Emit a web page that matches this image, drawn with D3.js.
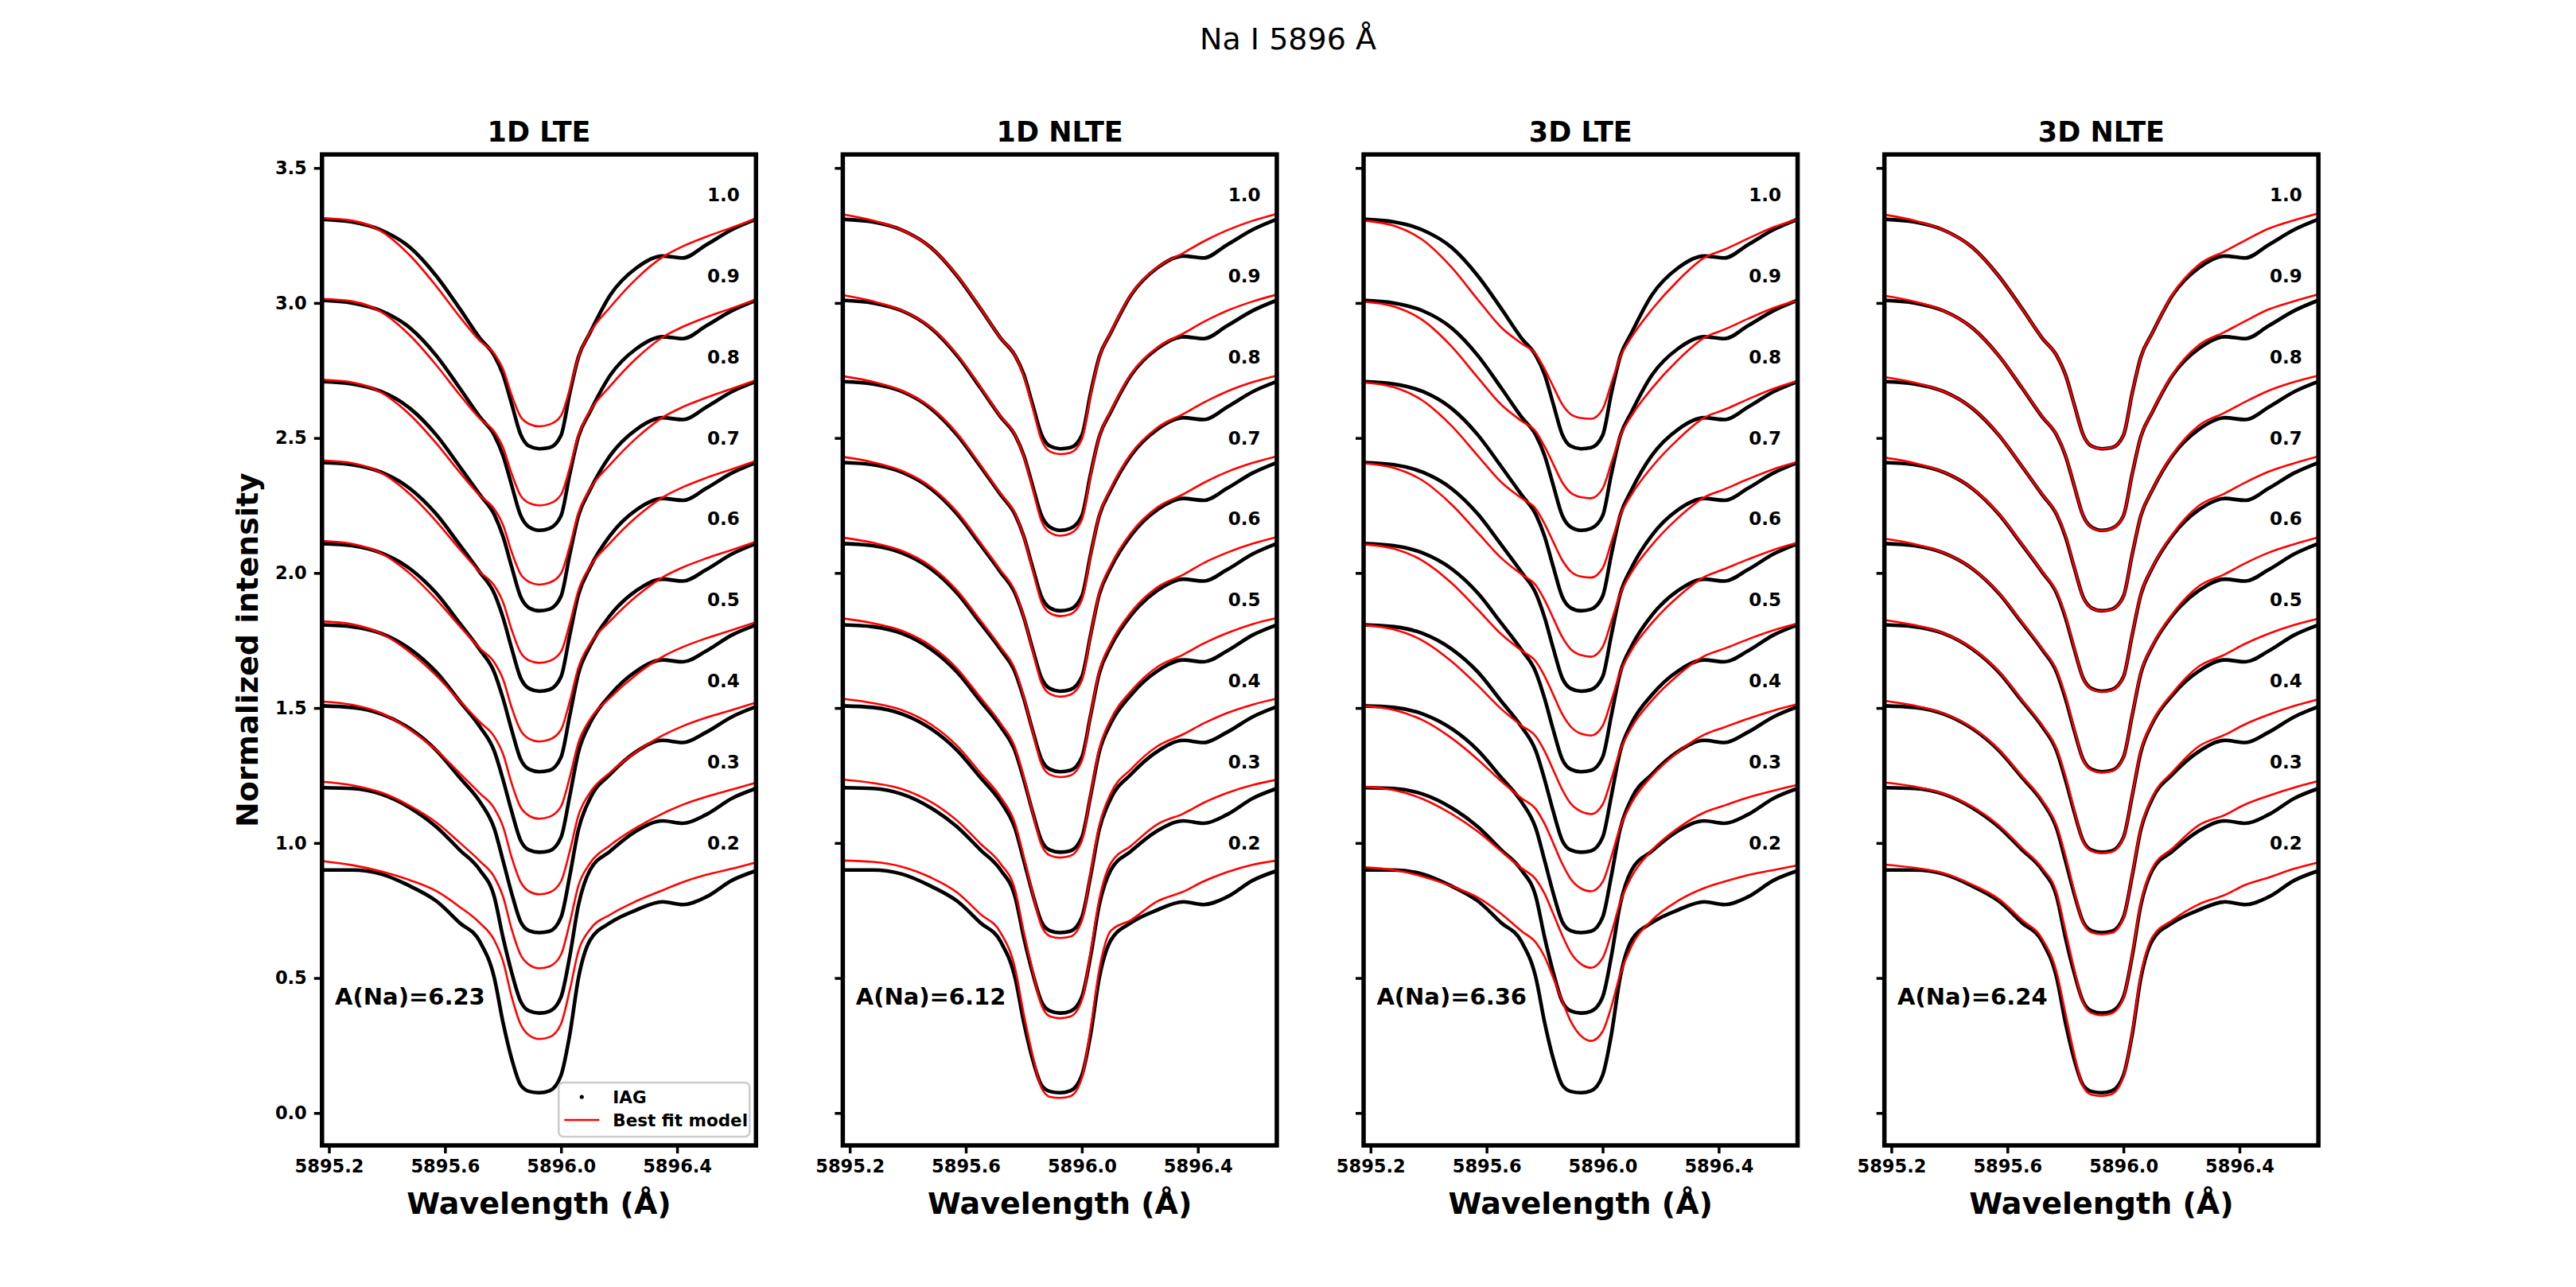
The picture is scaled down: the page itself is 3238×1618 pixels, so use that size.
<!DOCTYPE html>
<html><head><meta charset="utf-8">
<script src="https://cdn.jsdelivr.net/npm/d3@7/dist/d3.min.js"></script>
<style>
body{margin:0;background:#fff}
svg{display:block}
text{font-family:"DejaVu Sans",sans-serif}
</style>
</head><body>
<svg id="chart" width="3238" height="1618"></svg>
<script>
// ---------------- DATA ----------------
const figureTitle = "Na I 5896 Å";
const panelTitles = ["1D LTE", "1D NLTE", "3D LTE", "3D NLTE"];
const abundances = ["A(Na)=6.23", "A(Na)=6.12", "A(Na)=6.36", "A(Na)=6.24"];
const muLabels = ["1.0", "0.9", "0.8", "0.7", "0.6", "0.5", "0.4", "0.3", "0.2"];
const muOffsets = [2.4, 2.1, 1.8, 1.5, 1.2, 0.9, 0.6, 0.3, 0.0];
const xTicks = [5895.2, 5895.6, 5896.0, 5896.4];
const yTicks = [0.0, 0.5, 1.0, 1.5, 2.0, 2.5, 3.0, 3.5];
const legendLabels = ["IAG", "Best fit model"];

const wavelengths = [5895.176, 5895.28, 5895.38, 5895.48, 5895.57, 5895.65, 5895.72, 5895.77, 5895.80, 5895.83,
  5895.86, 5895.89, 5895.925, 5895.96, 5896.00, 5896.03, 5896.06, 5896.10, 5896.17, 5896.26,
  5896.35, 5896.42, 5896.50, 5896.59, 5896.672];

// IAG observed intensity (normalised), one row per mu (1.0 ... 0.2)
const obsIAG = [
  [0.910,0.900,0.870,0.805,0.700,0.580,0.470,0.405,0.335,0.225,0.115,0.070,0.060,0.064,0.110,0.265,0.400,0.490,0.630,0.730,0.774,0.767,0.815,0.872,0.910],
  [0.910,0.900,0.871,0.807,0.705,0.586,0.478,0.410,0.335,0.224,0.115,0.070,0.058,0.065,0.112,0.266,0.405,0.497,0.633,0.731,0.775,0.768,0.815,0.872,0.910],
  [0.909,0.900,0.872,0.809,0.711,0.595,0.490,0.416,0.335,0.222,0.114,0.071,0.060,0.066,0.114,0.268,0.412,0.508,0.636,0.732,0.775,0.768,0.814,0.872,0.909],
  [0.909,0.901,0.873,0.812,0.718,0.605,0.503,0.424,0.335,0.220,0.113,0.072,0.062,0.068,0.116,0.270,0.420,0.520,0.640,0.734,0.776,0.769,0.813,0.871,0.909],
  [0.909,0.901,0.874,0.815,0.725,0.615,0.516,0.432,0.335,0.218,0.112,0.073,0.064,0.069,0.118,0.272,0.428,0.529,0.644,0.735,0.777,0.770,0.812,0.871,0.909],
  [0.908,0.901,0.876,0.818,0.733,0.626,0.531,0.440,0.335,0.216,0.111,0.074,0.066,0.071,0.121,0.274,0.437,0.544,0.649,0.737,0.778,0.771,0.811,0.871,0.908],
  [0.908,0.902,0.878,0.823,0.743,0.643,0.553,0.453,0.335,0.213,0.110,0.075,0.068,0.073,0.125,0.278,0.450,0.565,0.655,0.739,0.780,0.772,0.810,0.868,0.905],
  [0.905,0.902,0.881,0.830,0.760,0.675,0.600,0.500,0.350,0.220,0.115,0.078,0.070,0.077,0.130,0.280,0.470,0.600,0.670,0.745,0.782,0.773,0.805,0.866,0.902],
  [0.900,0.900,0.885,0.840,0.785,0.705,0.635,0.500,0.335,0.200,0.105,0.080,0.075,0.082,0.140,0.290,0.500,0.640,0.705,0.752,0.782,0.772,0.800,0.862,0.897]
];

// Best-fit models, one row per mu (1.0 ... 0.2)
const model1DLTE = [
  [0.914,0.905,0.866,0.775,0.662,0.550,0.460,0.412,0.355,0.258,0.180,0.152,0.143,0.150,0.183,0.280,0.400,0.490,0.585,0.690,0.770,0.810,0.845,0.880,0.912],
  [0.915,0.906,0.867,0.779,0.670,0.561,0.472,0.423,0.365,0.267,0.188,0.159,0.150,0.157,0.190,0.289,0.410,0.500,0.593,0.695,0.773,0.812,0.847,0.881,0.913],
  [0.916,0.906,0.869,0.785,0.680,0.574,0.487,0.437,0.378,0.277,0.197,0.167,0.157,0.164,0.199,0.299,0.422,0.511,0.602,0.700,0.776,0.815,0.849,0.883,0.914],
  [0.917,0.907,0.871,0.791,0.691,0.589,0.504,0.453,0.392,0.289,0.207,0.176,0.167,0.174,0.209,0.312,0.436,0.524,0.612,0.707,0.780,0.818,0.852,0.885,0.915],
  [0.919,0.908,0.873,0.797,0.702,0.604,0.521,0.469,0.407,0.301,0.218,0.186,0.176,0.183,0.220,0.324,0.450,0.538,0.623,0.714,0.784,0.821,0.854,0.886,0.916],
  [0.921,0.910,0.876,0.806,0.720,0.627,0.548,0.494,0.430,0.320,0.234,0.201,0.190,0.197,0.236,0.343,0.472,0.558,0.639,0.724,0.790,0.826,0.858,0.889,0.918],
  [0.924,0.912,0.881,0.819,0.744,0.659,0.584,0.528,0.461,0.346,0.257,0.221,0.210,0.217,0.258,0.369,0.502,0.587,0.662,0.738,0.798,0.833,0.864,0.893,0.920],
  [0.927,0.914,0.887,0.837,0.776,0.702,0.633,0.574,0.502,0.380,0.287,0.249,0.236,0.243,0.287,0.404,0.542,0.625,0.692,0.757,0.809,0.842,0.871,0.898,0.923],
  [0.933,0.918,0.895,0.862,0.822,0.764,0.704,0.640,0.562,0.430,0.330,0.288,0.274,0.281,0.330,0.455,0.600,0.680,0.735,0.785,0.825,0.855,0.882,0.905,0.928]
];
const model1DNLTE = [
  [0.928,0.905,0.870,0.805,0.702,0.582,0.470,0.405,0.330,0.215,0.095,0.050,0.040,0.045,0.095,0.258,0.398,0.492,0.632,0.732,0.785,0.828,0.869,0.905,0.930],
  [0.929,0.906,0.872,0.809,0.709,0.590,0.480,0.412,0.332,0.215,0.095,0.050,0.038,0.046,0.097,0.260,0.405,0.501,0.637,0.735,0.787,0.830,0.871,0.906,0.931],
  [0.929,0.908,0.875,0.813,0.717,0.601,0.494,0.420,0.334,0.215,0.095,0.051,0.040,0.047,0.100,0.264,0.414,0.514,0.642,0.738,0.789,0.831,0.872,0.907,0.931],
  [0.930,0.910,0.878,0.818,0.726,0.613,0.510,0.431,0.337,0.215,0.095,0.052,0.042,0.049,0.102,0.268,0.424,0.529,0.649,0.743,0.792,0.834,0.874,0.908,0.932],
  [0.931,0.912,0.882,0.824,0.735,0.625,0.525,0.442,0.340,0.215,0.095,0.053,0.044,0.050,0.104,0.273,0.435,0.540,0.655,0.747,0.794,0.837,0.875,0.909,0.933],
  [0.932,0.914,0.886,0.830,0.746,0.639,0.543,0.453,0.343,0.215,0.095,0.054,0.046,0.052,0.108,0.277,0.447,0.558,0.663,0.752,0.798,0.839,0.877,0.911,0.933],
  [0.934,0.918,0.892,0.839,0.760,0.660,0.570,0.471,0.348,0.216,0.095,0.055,0.048,0.053,0.112,0.285,0.464,0.584,0.674,0.758,0.803,0.843,0.881,0.913,0.935],
  [0.935,0.922,0.900,0.852,0.783,0.698,0.623,0.525,0.370,0.228,0.102,0.058,0.051,0.057,0.118,0.292,0.490,0.625,0.690,0.769,0.809,0.849,0.885,0.915,0.934],
  [0.935,0.930,0.912,0.872,0.817,0.737,0.668,0.535,0.365,0.215,0.095,0.060,0.056,0.062,0.130,0.310,0.530,0.675,0.715,0.784,0.820,0.858,0.892,0.920,0.935]
];
const model3DLTE = [
  [0.905,0.886,0.833,0.731,0.612,0.510,0.450,0.410,0.355,0.290,0.226,0.188,0.174,0.171,0.207,0.302,0.398,0.474,0.576,0.683,0.767,0.798,0.838,0.881,0.910],
  [0.905,0.887,0.836,0.738,0.623,0.524,0.463,0.423,0.368,0.303,0.237,0.197,0.181,0.177,0.213,0.307,0.405,0.483,0.584,0.689,0.771,0.802,0.841,0.882,0.910],
  [0.906,0.888,0.838,0.744,0.634,0.537,0.477,0.437,0.382,0.315,0.249,0.206,0.187,0.183,0.218,0.313,0.412,0.491,0.593,0.695,0.775,0.805,0.843,0.883,0.911],
  [0.906,0.889,0.842,0.753,0.649,0.556,0.495,0.454,0.400,0.332,0.264,0.218,0.196,0.190,0.226,0.320,0.421,0.503,0.604,0.704,0.780,0.810,0.847,0.885,0.911],
  [0.906,0.890,0.845,0.762,0.664,0.574,0.513,0.472,0.418,0.349,0.279,0.231,0.205,0.198,0.234,0.327,0.430,0.515,0.615,0.712,0.785,0.815,0.850,0.886,0.912],
  [0.907,0.891,0.849,0.772,0.683,0.597,0.535,0.494,0.440,0.370,0.299,0.246,0.217,0.207,0.243,0.337,0.441,0.529,0.628,0.722,0.792,0.820,0.854,0.888,0.913],
  [0.908,0.893,0.855,0.788,0.709,0.629,0.566,0.525,0.471,0.399,0.325,0.267,0.232,0.221,0.256,0.349,0.457,0.549,0.648,0.737,0.801,0.829,0.860,0.891,0.914],
  [0.909,0.896,0.863,0.807,0.742,0.670,0.607,0.565,0.512,0.437,0.360,0.294,0.252,0.238,0.274,0.366,0.478,0.576,0.673,0.755,0.813,0.839,0.868,0.894,0.915],
  [0.910,0.900,0.876,0.840,0.798,0.738,0.674,0.631,0.579,0.500,0.417,0.340,0.286,0.267,0.302,0.393,0.512,0.619,0.714,0.786,0.833,0.857,0.881,0.900,0.917]
];
const model3DNLTE = [
  [0.927,0.905,0.870,0.805,0.700,0.580,0.470,0.405,0.335,0.225,0.115,0.070,0.060,0.064,0.110,0.265,0.400,0.490,0.633,0.742,0.792,0.832,0.875,0.907,0.932],
  [0.927,0.905,0.871,0.807,0.705,0.587,0.479,0.411,0.337,0.225,0.115,0.069,0.057,0.064,0.112,0.266,0.405,0.498,0.637,0.744,0.793,0.833,0.876,0.907,0.932],
  [0.926,0.905,0.872,0.810,0.712,0.596,0.491,0.418,0.339,0.224,0.113,0.070,0.059,0.065,0.113,0.269,0.413,0.509,0.640,0.746,0.794,0.834,0.875,0.908,0.931],
  [0.927,0.907,0.874,0.813,0.720,0.607,0.505,0.428,0.342,0.224,0.112,0.070,0.060,0.066,0.115,0.271,0.422,0.522,0.645,0.749,0.795,0.835,0.875,0.907,0.932],
  [0.927,0.907,0.875,0.816,0.727,0.618,0.519,0.438,0.345,0.224,0.111,0.070,0.061,0.066,0.117,0.273,0.431,0.532,0.650,0.751,0.796,0.836,0.875,0.907,0.932],
  [0.926,0.907,0.877,0.820,0.736,0.630,0.535,0.447,0.348,0.223,0.109,0.070,0.062,0.067,0.119,0.276,0.441,0.548,0.656,0.754,0.798,0.838,0.875,0.908,0.931],
  [0.927,0.909,0.880,0.826,0.747,0.648,0.558,0.463,0.353,0.223,0.107,0.069,0.062,0.067,0.122,0.281,0.455,0.571,0.664,0.758,0.801,0.840,0.875,0.908,0.932],
  [0.924,0.909,0.883,0.834,0.766,0.682,0.607,0.514,0.375,0.234,0.111,0.070,0.062,0.069,0.126,0.284,0.477,0.608,0.681,0.766,0.804,0.843,0.875,0.906,0.929],
  [0.920,0.908,0.888,0.845,0.793,0.715,0.645,0.520,0.370,0.220,0.100,0.068,0.063,0.070,0.135,0.295,0.510,0.652,0.715,0.773,0.808,0.845,0.872,0.905,0.928]
];
const models = [model1DLTE, model1DNLTE, model3DLTE, model3DNLTE];

// ---------------- LAYOUT ----------------
const W = 3238, H = 1618;
const axLeft = 404.75, axRight = 2914.2, axTop = 194.2, axBottom = 1440.0;
const nP = 4, wspace = 0.2;
const pw = (axRight - axLeft) / (nP + (nP - 1) * wspace);
const ph = axBottom - axTop;
const gap = pw * wspace;
const xDomain = [5895.176, 5896.672];
const yDomain = [-0.12, 3.55];

const svg = d3.select("#chart");
svg.append("rect").attr("width", W).attr("height", H).attr("fill", "#fff");

svg.append("text").attr("x", W / 2).attr("y", 62).attr("text-anchor", "middle")
  .attr("font-size", 38).attr("fill", "#000").text(figureTitle);

const x = d3.scaleLinear().domain(xDomain).range([0, pw]);
const y = d3.scaleLinear().domain(yDomain).range([ph, 0]);

const defs = svg.append("defs");
defs.append("clipPath").attr("id", "axclip").append("rect")
  .attr("x", 0).attr("y", 0).attr("width", pw).attr("height", ph);

panelTitles.forEach((title, p) => {
  const left = axLeft + p * (pw + gap);
  const g = svg.append("g").attr("transform", `translate(${left},${axTop})`);
  const plot = g.append("g").attr("clip-path", "url(#axclip)");

  muOffsets.forEach((off, k) => {
    const line = d3.line()
      .x((d, i) => x(wavelengths[i]))
      .y(d => y(d + off))
      .curve(d3.curveMonotoneX);
    plot.append("path").attr("d", line(obsIAG[k]))
      .attr("fill", "none").attr("stroke", "#000").attr("stroke-width", 4.6)
      .attr("stroke-linejoin", "round");
  });
  muOffsets.forEach((off, k) => {
    const line = d3.line()
      .x((d, i) => x(wavelengths[i]))
      .y(d => y(d + off))
      .curve(d3.curveMonotoneX);
    plot.append("path").attr("d", line(models[p][k]))
      .attr("fill", "none").attr("stroke", "#ff0000").attr("stroke-width", 2.6)
      .attr("stroke-linejoin", "round");
  });

  // mu labels
  muLabels.forEach((lab, k) => {
    g.append("text").attr("x", x(5896.56)).attr("y", y(muOffsets[k] + 1.0))
      .attr("text-anchor", "middle").attr("dominant-baseline", "central")
      .attr("font-size", 23).attr("font-weight", "bold").text(lab);
  });

  // abundance annotation
  g.append("text").attr("x", 0.03 * pw).attr("y", ph * (1 - 0.15))
    .attr("dominant-baseline", "central")
    .attr("font-size", 29).attr("font-weight", "bold").text(abundances[p]);

  // axes
  const xa = g.append("g").attr("transform", `translate(0,${ph})`)
    .call(d3.axisBottom(x).tickValues(xTicks).tickFormat(d3.format(".1f"))
      .tickSize(10).tickPadding(8));
  const ya = g.append("g")
    .call(d3.axisLeft(y).tickValues(yTicks).tickFormat(p === 0 ? d3.format(".1f") : () => "")
      .tickSize(10).tickPadding(9));
  [xa, ya].forEach(a => {
    a.select(".domain").remove();
    a.selectAll(".tick line").attr("stroke", "#000").attr("stroke-width", 3.5);
    a.selectAll(".tick text").attr("font-family", "DejaVu Sans").attr("font-size", 22.5)
      .attr("font-weight", "bold").attr("fill", "#000");
  });

  // spines
  g.append("rect").attr("x", 0).attr("y", 0).attr("width", pw).attr("height", ph)
    .attr("fill", "none").attr("stroke", "#000").attr("stroke-width", 5.5);

  // panel title
  g.append("text").attr("x", pw / 2).attr("y", -16).attr("text-anchor", "middle")
    .attr("font-size", 35).attr("font-weight", "bold").text(title);

  // x label
  g.append("text").attr("x", pw / 2).attr("y", ph + 86).attr("text-anchor", "middle")
    .attr("font-size", 38).attr("font-weight", "bold").text("Wavelength (Å)");

  if (p === 0) {
    g.append("text").attr("transform", `translate(${-94},${ph / 2}) rotate(-90)`)
      .attr("text-anchor", "middle").attr("dominant-baseline", "central")
      .attr("font-size", 38).attr("font-weight", "bold").text("Normalized intensity");

    // legend
    const lg = g.append("g").attr("transform", `translate(${pw - 248},${ph - 79})`);
    lg.append("rect").attr("x", 0).attr("y", 0).attr("width", 240).attr("height", 68)
      .attr("rx", 6).attr("ry", 6).attr("fill", "#fff").attr("fill-opacity", 0.8)
      .attr("stroke", "#cccccc").attr("stroke-width", 2.5);
    lg.append("circle").attr("cx", 29).attr("cy", 18).attr("r", 2.6).attr("fill", "#000");
    lg.append("line").attr("x1", 7).attr("x2", 51).attr("y1", 47).attr("y2", 47)
      .attr("stroke", "#ff0000").attr("stroke-width", 2.6);
    lg.append("text").attr("x", 68).attr("y", 18).attr("dominant-baseline", "central")
      .attr("font-size", 21.5).attr("font-weight", "bold").text(legendLabels[0]);
    lg.append("text").attr("x", 68).attr("y", 47).attr("dominant-baseline", "central")
      .attr("font-size", 21.5).attr("font-weight", "bold").text(legendLabels[1]);
  }
});
</script>
</body></html>
